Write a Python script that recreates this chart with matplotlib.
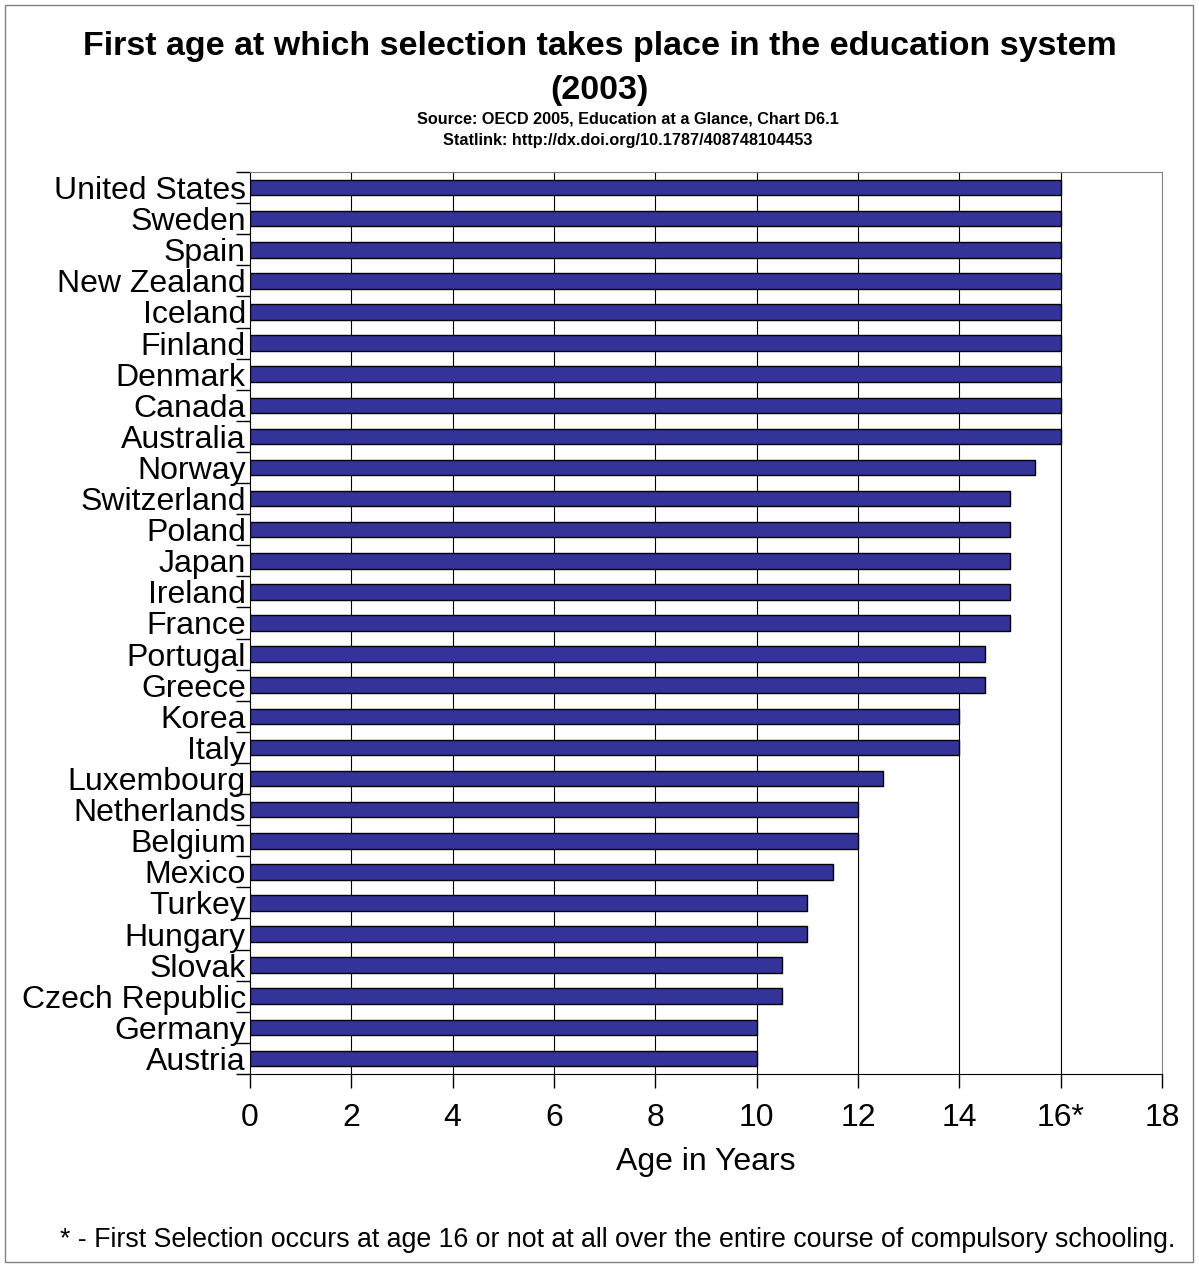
import numpy as np
import matplotlib.pyplot as plt
from matplotlib.patches import Rectangle

plt.rcParams['font.family'] = ['Liberation Sans', 'DejaVu Sans']

countries = ["Austria", "Germany", "Czech Republic", "Slovak", "Hungary", "Turkey",
             "Mexico", "Belgium", "Netherlands", "Luxembourg", "Italy", "Korea",
             "Greece", "Portugal", "France", "Ireland", "Japan", "Poland",
             "Switzerland", "Norway", "Australia", "Canada", "Denmark", "Finland",
             "Iceland", "New Zealand", "Spain", "Sweden", "United States"]
ages = [10, 10, 10.5, 10.5, 11, 11, 11.5, 12, 12, 12.5, 14, 14, 14.5, 14.5,
        15, 15, 15, 15, 15, 15.5, 16, 16, 16, 16, 16, 16, 16, 16, 16]
xticks = [0, 2, 4, 6, 8, 10, 12, 14, 16, 18]
xticklabels = ["0", "2", "4", "6", "8", "10", "12", "14", "16*", "18"]

W, H = 1199, 1265
fig = plt.figure(figsize=(W / 100, H / 100), dpi=100)
ax = fig.add_axes([250 / W, 1 - 1074 / H, (1162 - 250) / W, (1074 - 172) / H])

y = np.arange(len(countries))
ax.barh(y, ages, height=0.5, color='#333399', edgecolor='black', linewidth=1, zorder=3)

ax.set_xlim(0, 18)
ax.set_ylim(-0.5, len(countries) - 0.5)
ax.set_xticks(xticks)
ax.set_xticklabels(xticklabels, fontsize=23)
ax.set_yticks(y)
ax.set_yticklabels(countries, fontsize=23)
ax.tick_params(axis='y', length=0, pad=3)
ax.tick_params(axis='x', length=10, width=1, pad=11, direction='out')
# category boundary ticks on the left
ax.set_yticks(np.arange(len(countries) + 1) - 0.5, minor=True)
ax.tick_params(axis='y', which='minor', length=10, width=1, direction='out')

for gx in xticks[1:-1]:
    ax.axvline(gx, color='black', linewidth=0.8, zorder=1)

ax.spines['left'].set_color('black')
ax.spines['bottom'].set_color('black')
ax.spines['top'].set_color('#808080')
ax.spines['right'].set_color('#808080')

ax.set_xlabel("Age in Years", fontsize=23, labelpad=10)

fig.text(0.5, 1 - 46 / H, "First age at which selection takes place in the education system",
         ha='center', va='center', fontsize=24.5, fontweight='bold')
fig.text(0.5, 1 - 91 / H, "(2003)", ha='center', va='center', fontsize=24.5, fontweight='bold')
fig.text(628 / W, 1 - 119 / H, "Source: OECD 2005, Education at a Glance, Chart D6.1",
         ha='center', va='center', fontsize=11.7, fontweight='bold')
fig.text(628 / W, 1 - 141 / H, "Statlink: http://dx.doi.org/10.1787/408748104453",
         ha='center', va='center', fontsize=11.7, fontweight='bold')
fig.text(618 / W, 1 - 1240 / H,
         "* - First Selection occurs at age 16 or not at all over the entire course of compulsory schooling.",
         ha='center', va='center', fontsize=19.3)

fig.patches.append(Rectangle((5 / W, 3 / H), (1193 - 5) / W, (1260 - 3) / H,
                             transform=fig.transFigure, fill=False,
                             edgecolor='#808080', linewidth=1))

fig.savefig("out.png", dpi=100)
